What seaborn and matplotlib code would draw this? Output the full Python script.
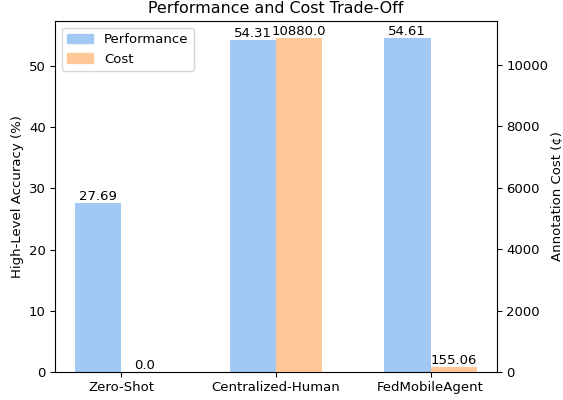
import matplotlib
matplotlib.use("Agg")
import matplotlib.pyplot as plt
import seaborn as sns
import pandas as pd
import numpy as np
from matplotlib.patches import Patch

methods = ["Zero-Shot", "Centralized-Human", "FedMobileAgent"]
performance = [27.69, 54.31, 54.61]
cost = [0.0, 10880.0, 155.06]
perf_color = "#a1c9f4"
cost_color = "#ffc896"

df = pd.DataFrame({
    "Method": methods * 2,
    "Metric": ["Performance"] * 3 + ["Cost"] * 3,
    "Perf": performance + [np.nan] * 3,
    "CostV": [np.nan] * 3 + cost,
})

DPI = 95.5
fig = plt.figure(figsize=(563 / DPI, 400 / DPI), dpi=DPI)
ax1 = fig.add_subplot(111)
fig.subplots_adjust(left=55/563, right=497/563, top=1-21/400, bottom=1-372/400)
ax2 = ax1.twinx()

hue_order = ["Performance", "Cost"]
pal = {"Performance": perf_color, "Cost": cost_color}
sns.barplot(data=df, x="Method", y="Perf", hue="Metric", hue_order=hue_order,
            palette=pal, width=0.6, ax=ax1, legend=False, errorbar=None, saturation=1)
sns.barplot(data=df, x="Method", y="CostV", hue="Metric", hue_order=hue_order,
            palette=pal, width=0.6, ax=ax2, legend=False, errorbar=None, saturation=1)

for ax in (ax1, ax2):
    for cont in ax.containers:
        vals = [r.get_height() for r in cont]
        labels = [("" if np.isnan(v) else str(round(v, 2))) for v in vals]
        ax.bar_label(cont, labels=labels, fontsize=10)

ax1.set_xlim(-0.43, 2.43)
ax1.set_ylim(0, max(performance) * 1.05)
ax2.set_ylim(0, max(cost) * 1.05)
ax1.set_xlabel("")
ax1.set_ylabel("High-Level Accuracy (%)")
ax2.set_ylabel("Annotation Cost (¢)", labelpad=1.5)
ax1.set_title("Performance and Cost Trade-Off")
handles = [Patch(color=perf_color, label="Performance"), Patch(color=cost_color, label="Cost")]
ax1.legend(handles=handles, loc="upper left")

fig.savefig("out.png", dpi=DPI)
